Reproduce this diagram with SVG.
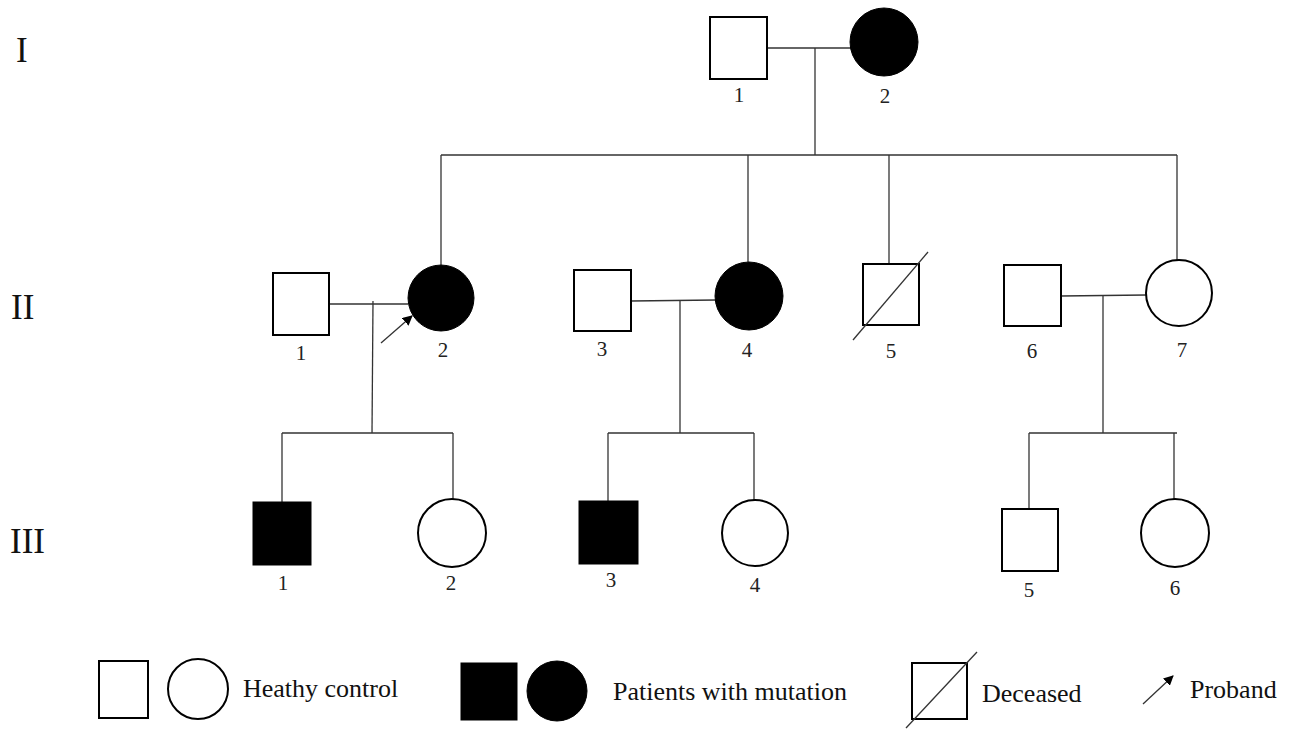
<svg xmlns="http://www.w3.org/2000/svg" width="1290" height="730" viewBox="0 0 1290 730">
<defs>
<style>
.sh{fill:#fff;stroke:#000;stroke-width:2}
.af{fill:#000;stroke:#000;stroke-width:1}
.ln{stroke:#333;stroke-width:1.3;fill:none}
.sl{stroke:#333;stroke-width:1.3}
.num{font-family:"Liberation Serif",serif;font-size:21px;fill:#222;text-anchor:middle}
.gen{font-family:"Liberation Serif",serif;font-size:35px;fill:#111}
.leg{font-family:"Liberation Serif",serif;font-size:26px;fill:#111}
</style>
<marker id="ah" viewBox="0 0 10 10" refX="9" refY="5" markerWidth="10" markerHeight="10" markerUnits="userSpaceOnUse" orient="auto">
<path d="M0,0 L10,5 L0,10 z" fill="#000"/>
</marker>
</defs>
<rect width="1290" height="730" fill="#fff"/>

<g id="generations">
<text class="gen" x="16" y="62">I</text>
<text class="gen" x="11" y="319">II</text>
<text class="gen" x="10" y="553">III</text>
</g>

<g id="connectors">
<line class="ln" x1="767" y1="48" x2="851" y2="48"/>
<line class="ln" x1="815" y1="48" x2="815" y2="155"/>
<line class="ln" x1="441" y1="155" x2="1177" y2="155"/>
<line class="ln" x1="441" y1="155" x2="441" y2="265"/>
<line class="ln" x1="748" y1="155" x2="748" y2="262"/>
<line class="ln" x1="889" y1="155" x2="889" y2="264"/>
<line class="ln" x1="1177" y1="155" x2="1177" y2="260"/>
<line class="ln" x1="329" y1="304" x2="408" y2="304"/>
<line class="ln" x1="373" y1="301" x2="372" y2="433"/>
<line class="ln" x1="282" y1="433" x2="453" y2="433"/>
<line class="ln" x1="282" y1="433" x2="282" y2="502"/>
<line class="ln" x1="453" y1="433" x2="453" y2="503"/>
<line class="ln" x1="631" y1="301" x2="716" y2="300"/>
<line class="ln" x1="680" y1="301" x2="680" y2="433"/>
<line class="ln" x1="608" y1="433" x2="754" y2="433"/>
<line class="ln" x1="608" y1="433" x2="608" y2="501"/>
<line class="ln" x1="754" y1="433" x2="754" y2="503"/>
<line class="ln" x1="1061" y1="296" x2="1146" y2="295"/>
<line class="ln" x1="1103" y1="296" x2="1103" y2="433"/>
<line class="ln" x1="1029" y1="433" x2="1177" y2="433"/>
<line class="ln" x1="1029" y1="433" x2="1029" y2="509"/>
<line class="ln" x1="1174" y1="433" x2="1174" y2="503"/>
<line class="sl" x1="381" y1="343" x2="412" y2="316" marker-end="url(#ah)"/>
</g>

<g id="I-1"><rect class="sh" x="710" y="17" width="57" height="62"/><text class="num" x="739" y="102">1</text></g>
<g id="I-2"><circle class="af" cx="884" cy="42" r="34"/><text class="num" x="885" y="103">2</text></g>

<g id="II-1"><rect class="sh" x="273" y="273" width="56" height="62"/><text class="num" x="301" y="360">1</text></g>
<g id="II-2"><circle class="af" cx="441" cy="298" r="33"/><text class="num" x="443" y="357">2</text></g>
<g id="II-3"><rect class="sh" x="574" y="270" width="57" height="61"/><text class="num" x="602" y="356">3</text></g>
<g id="II-4"><circle class="af" cx="749" cy="296" r="34"/><text class="num" x="747" y="357">4</text></g>
<g id="II-5"><rect class="sh" x="863" y="264" width="56" height="61"/><line class="sl" x1="853" y1="340" x2="928" y2="252"/><text class="num" x="891" y="358">5</text></g>
<g id="II-6"><rect class="sh" x="1004" y="265" width="57" height="61"/><text class="num" x="1032" y="358">6</text></g>
<g id="II-7"><circle class="sh" cx="1179" cy="293" r="33"/><text class="num" x="1182" y="357">7</text></g>

<g id="III-1"><rect class="af" x="253" y="502" width="58" height="63"/><text class="num" x="283" y="590">1</text></g>
<g id="III-2"><circle class="sh" cx="452" cy="533" r="34"/><text class="num" x="451" y="590">2</text></g>
<g id="III-3"><rect class="af" x="579" y="501" width="59" height="63"/><text class="num" x="611" y="587">3</text></g>
<g id="III-4"><circle class="sh" cx="755" cy="533" r="33"/><text class="num" x="755" y="592">4</text></g>
<g id="III-5"><rect class="sh" x="1002" y="509" width="56" height="62"/><text class="num" x="1029" y="597">5</text></g>
<g id="III-6"><circle class="sh" cx="1175" cy="533" r="34"/><text class="num" x="1175" y="595">6</text></g>

<g id="legend">
<rect class="sh" x="99" y="661" width="49" height="57"/>
<circle class="sh" cx="198" cy="689" r="30"/>
<text class="leg" x="243" y="697">Heathy control</text>
<rect class="af" x="461" y="663" width="56" height="57"/>
<circle class="af" cx="557" cy="691" r="30"/>
<text class="leg" x="613" y="700">Patients with mutation</text>
<rect class="sh" x="912" y="663" width="55" height="56"/>
<line class="sl" x1="906" y1="728" x2="977" y2="652"/>
<text class="leg" x="982" y="702">Deceased</text>
<line class="sl" x1="1143" y1="704" x2="1173" y2="676" marker-end="url(#ah)"/>
<text class="leg" x="1190" y="698">Proband</text>
</g>
</svg>
